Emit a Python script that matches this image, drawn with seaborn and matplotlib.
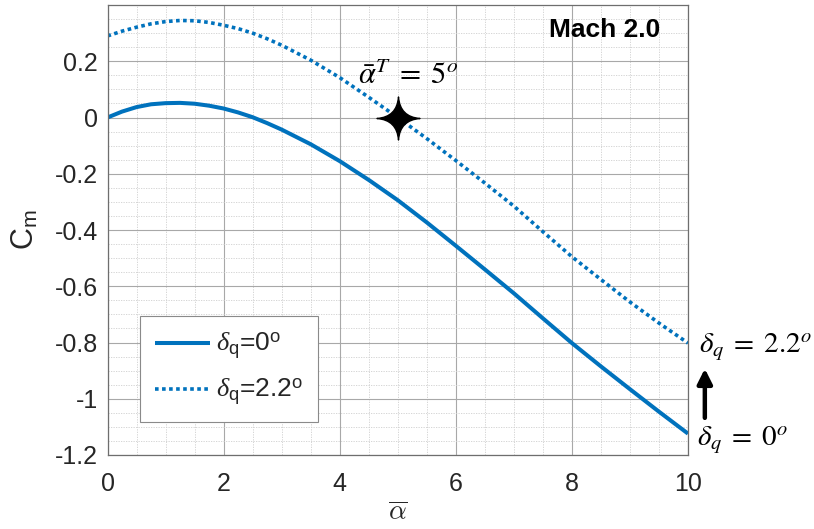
import numpy as np
import pandas as pd
import matplotlib
matplotlib.use("Agg")
import matplotlib.pyplot as plt
from matplotlib.path import Path
from matplotlib.ticker import MultipleLocator
import seaborn as sns

# Mean angle of attack (deg) and pitching moment coefficient for two flap settings
alpha_bar = [0.0, 0.25, 0.5, 0.75, 1.0, 1.25, 1.5, 1.75, 2.0, 2.25, 2.5, 2.75, 3.0, 3.5,
             4.0, 4.5, 5.0, 5.5, 6.0, 6.5, 7.0, 7.5, 8.0, 8.5, 9.0, 9.5, 10.0]
cm_dq_0 = [0.000, 0.021, 0.037, 0.047, 0.051, 0.052, 0.049, 0.042, 0.032, 0.018, 0.001,
           -0.020, -0.043, -0.095, -0.155, -0.222, -0.294, -0.373, -0.456, -0.540,
           -0.625, -0.714, -0.802, -0.885, -0.966, -1.046, -1.124]
cm_dq_22 = [0.290, 0.307, 0.321, 0.333, 0.341, 0.345, 0.344, 0.338, 0.328, 0.316, 0.300,
            0.280, 0.257, 0.204, 0.142, 0.072, 0.000, -0.075, -0.153, -0.233, -0.315,
            -0.406, -0.495, -0.576, -0.656, -0.731, -0.802]

# Trim point
trim_alpha = 5.0
trim_cm = 0.0

x_ticks = [0, 2, 4, 6, 8, 10]
x_tick_labels = ["0", "2", "4", "6", "8", "10"]
y_ticks = [-1.2, -1.0, -0.8, -0.6, -0.4, -0.2, 0.0, 0.2]
y_tick_labels = ["-1.2", "-1", "-0.8", "-0.6", "-0.4", "-0.2", "0", "0.2"]

sns.set_theme(style="white")
plt.rcParams["font.family"] = ["Liberation Sans", "DejaVu Sans"]
plt.rcParams["mathtext.fontset"] = "custom"
plt.rcParams["mathtext.rm"] = "Liberation Sans"
plt.rcParams["mathtext.it"] = "Liberation Serif:italic"
plt.rcParams["mathtext.bf"] = "Liberation Sans:bold"
plt.rcParams["axes.unicode_minus"] = False

blue = "#0072BD"

fig = plt.figure(figsize=(8.14, 5.29), dpi=100)
ax = fig.add_axes([107.5 / 814, 1 - 455 / 529, 580.5 / 814, 450 / 529])

df0 = pd.DataFrame({"alpha": alpha_bar, "cm": cm_dq_0})
df22 = pd.DataFrame({"alpha": alpha_bar, "cm": cm_dq_22})

sns.lineplot(data=df0, x="alpha", y="cm", ax=ax, color=blue, lw=2.9,
             label=r"$\delta_{\mathrm{q}}$=0$^\mathrm{o}$")
sns.lineplot(data=df22, x="alpha", y="cm", ax=ax, color=blue, lw=2.6,
             linestyle=(0, (1, 0.95)), label=r"$\delta_{\mathrm{q}}$=2.2$^\mathrm{o}$")
for ln in ax.get_lines():
    ln.set_dash_capstyle("butt")
    ln.set_solid_capstyle("butt")

# Four-pointed star marking the trim condition
s = 0.07
star = Path(
    [(0, 1), (s, s), (1, 0), (s, -s), (0, -1), (-s, -s), (-1, 0), (-s, s), (0, 1), (0, 1)],
    [Path.MOVETO, Path.CURVE3, Path.CURVE3, Path.CURVE3, Path.CURVE3,
     Path.CURVE3, Path.CURVE3, Path.CURVE3, Path.CURVE3, Path.CLOSEPOLY],
)
ax.plot([trim_alpha], [trim_cm], marker=star, markersize=31, color="black",
        linestyle="none", zorder=5)

ax.set_xlim(0, 10)
ax.set_ylim(-1.2, 0.4)
ax.set_xticks(x_ticks)
ax.set_xticklabels(x_tick_labels)
ax.set_yticks(y_ticks)
ax.set_yticklabels(y_tick_labels)
ax.xaxis.set_minor_locator(MultipleLocator(0.5))
ax.yaxis.set_minor_locator(MultipleLocator(0.05))

ax.grid(which="major", color="#a8a8a8", linewidth=0.8, linestyle="-")
ax.grid(which="minor", color="#cfcfcf", linewidth=0.6, linestyle=(0, (1.5, 1.5)))
ax.set_axisbelow(True)

for sp in ax.spines.values():
    sp.set_color("#6e6e6e")
    sp.set_linewidth(0.9)

ax.tick_params(which="major", direction="in", length=5, width=0.8, color="#6e6e6e",
               labelsize=18, labelcolor="#262626", top=False, right=False)
ax.tick_params(axis="x", which="major", pad=12)
ax.tick_params(axis="y", which="major", pad=7)
ax.tick_params(which="minor", length=0)

ax.set_xlabel(r"$\overline{\alpha}$", fontsize=20, color="#262626", math_fontfamily="cm")
ax.xaxis.set_label_coords(0.5, -0.1)
ax.set_ylabel(r"C$_\mathrm{m}$", fontsize=22, color="#262626")
ax.yaxis.set_label_coords(-0.115, 0.5)

leg = ax.legend(loc="lower left", bbox_to_anchor=(0.051, 0.073), fontsize=18,
                frameon=True, fancybox=False, edgecolor="#8a8a8a", framealpha=1,
                handlelength=2.2, handletextpad=0.25, labelspacing=0.6,
                borderpad=0.6, borderaxespad=0)
leg.get_frame().set_linewidth(0.8)
for t in leg.get_texts():
    t.set_fontsize(19)
leg.set_bbox_to_anchor((0.051 + 3 / 580.5, 0.073), transform=ax.transAxes)

ax.text(0.856, 0.929, "Mach 2.0", transform=ax.transAxes, ha="center",
        va="baseline", fontsize=19, fontweight="bold", color="black")

ax.text(4.31, 0.118, r"$\bar{\alpha}^T \;=\; 5^o$", ha="left", va="baseline",
        fontsize=22, math_fontfamily="stix", color="black")
ax.text(10.19, -0.839, r"$\delta_q\; =\; 2.2^o$", ha="left", va="baseline",
        fontsize=21, math_fontfamily="stix", color="black", clip_on=False)
ax.text(10.16, -1.168, r"$\delta_q\; =\; 0^o$", ha="left", va="baseline",
        fontsize=21, math_fontfamily="stix", color="black", clip_on=False)
ax.annotate("", xy=(10.29, -0.893), xytext=(10.29, -1.068),
            arrowprops=dict(arrowstyle="-|>", lw=3.2, color="black", mutation_scale=22,
                            shrinkA=0, shrinkB=0),
            annotation_clip=False)

fig.savefig("out.png", dpi=100)
